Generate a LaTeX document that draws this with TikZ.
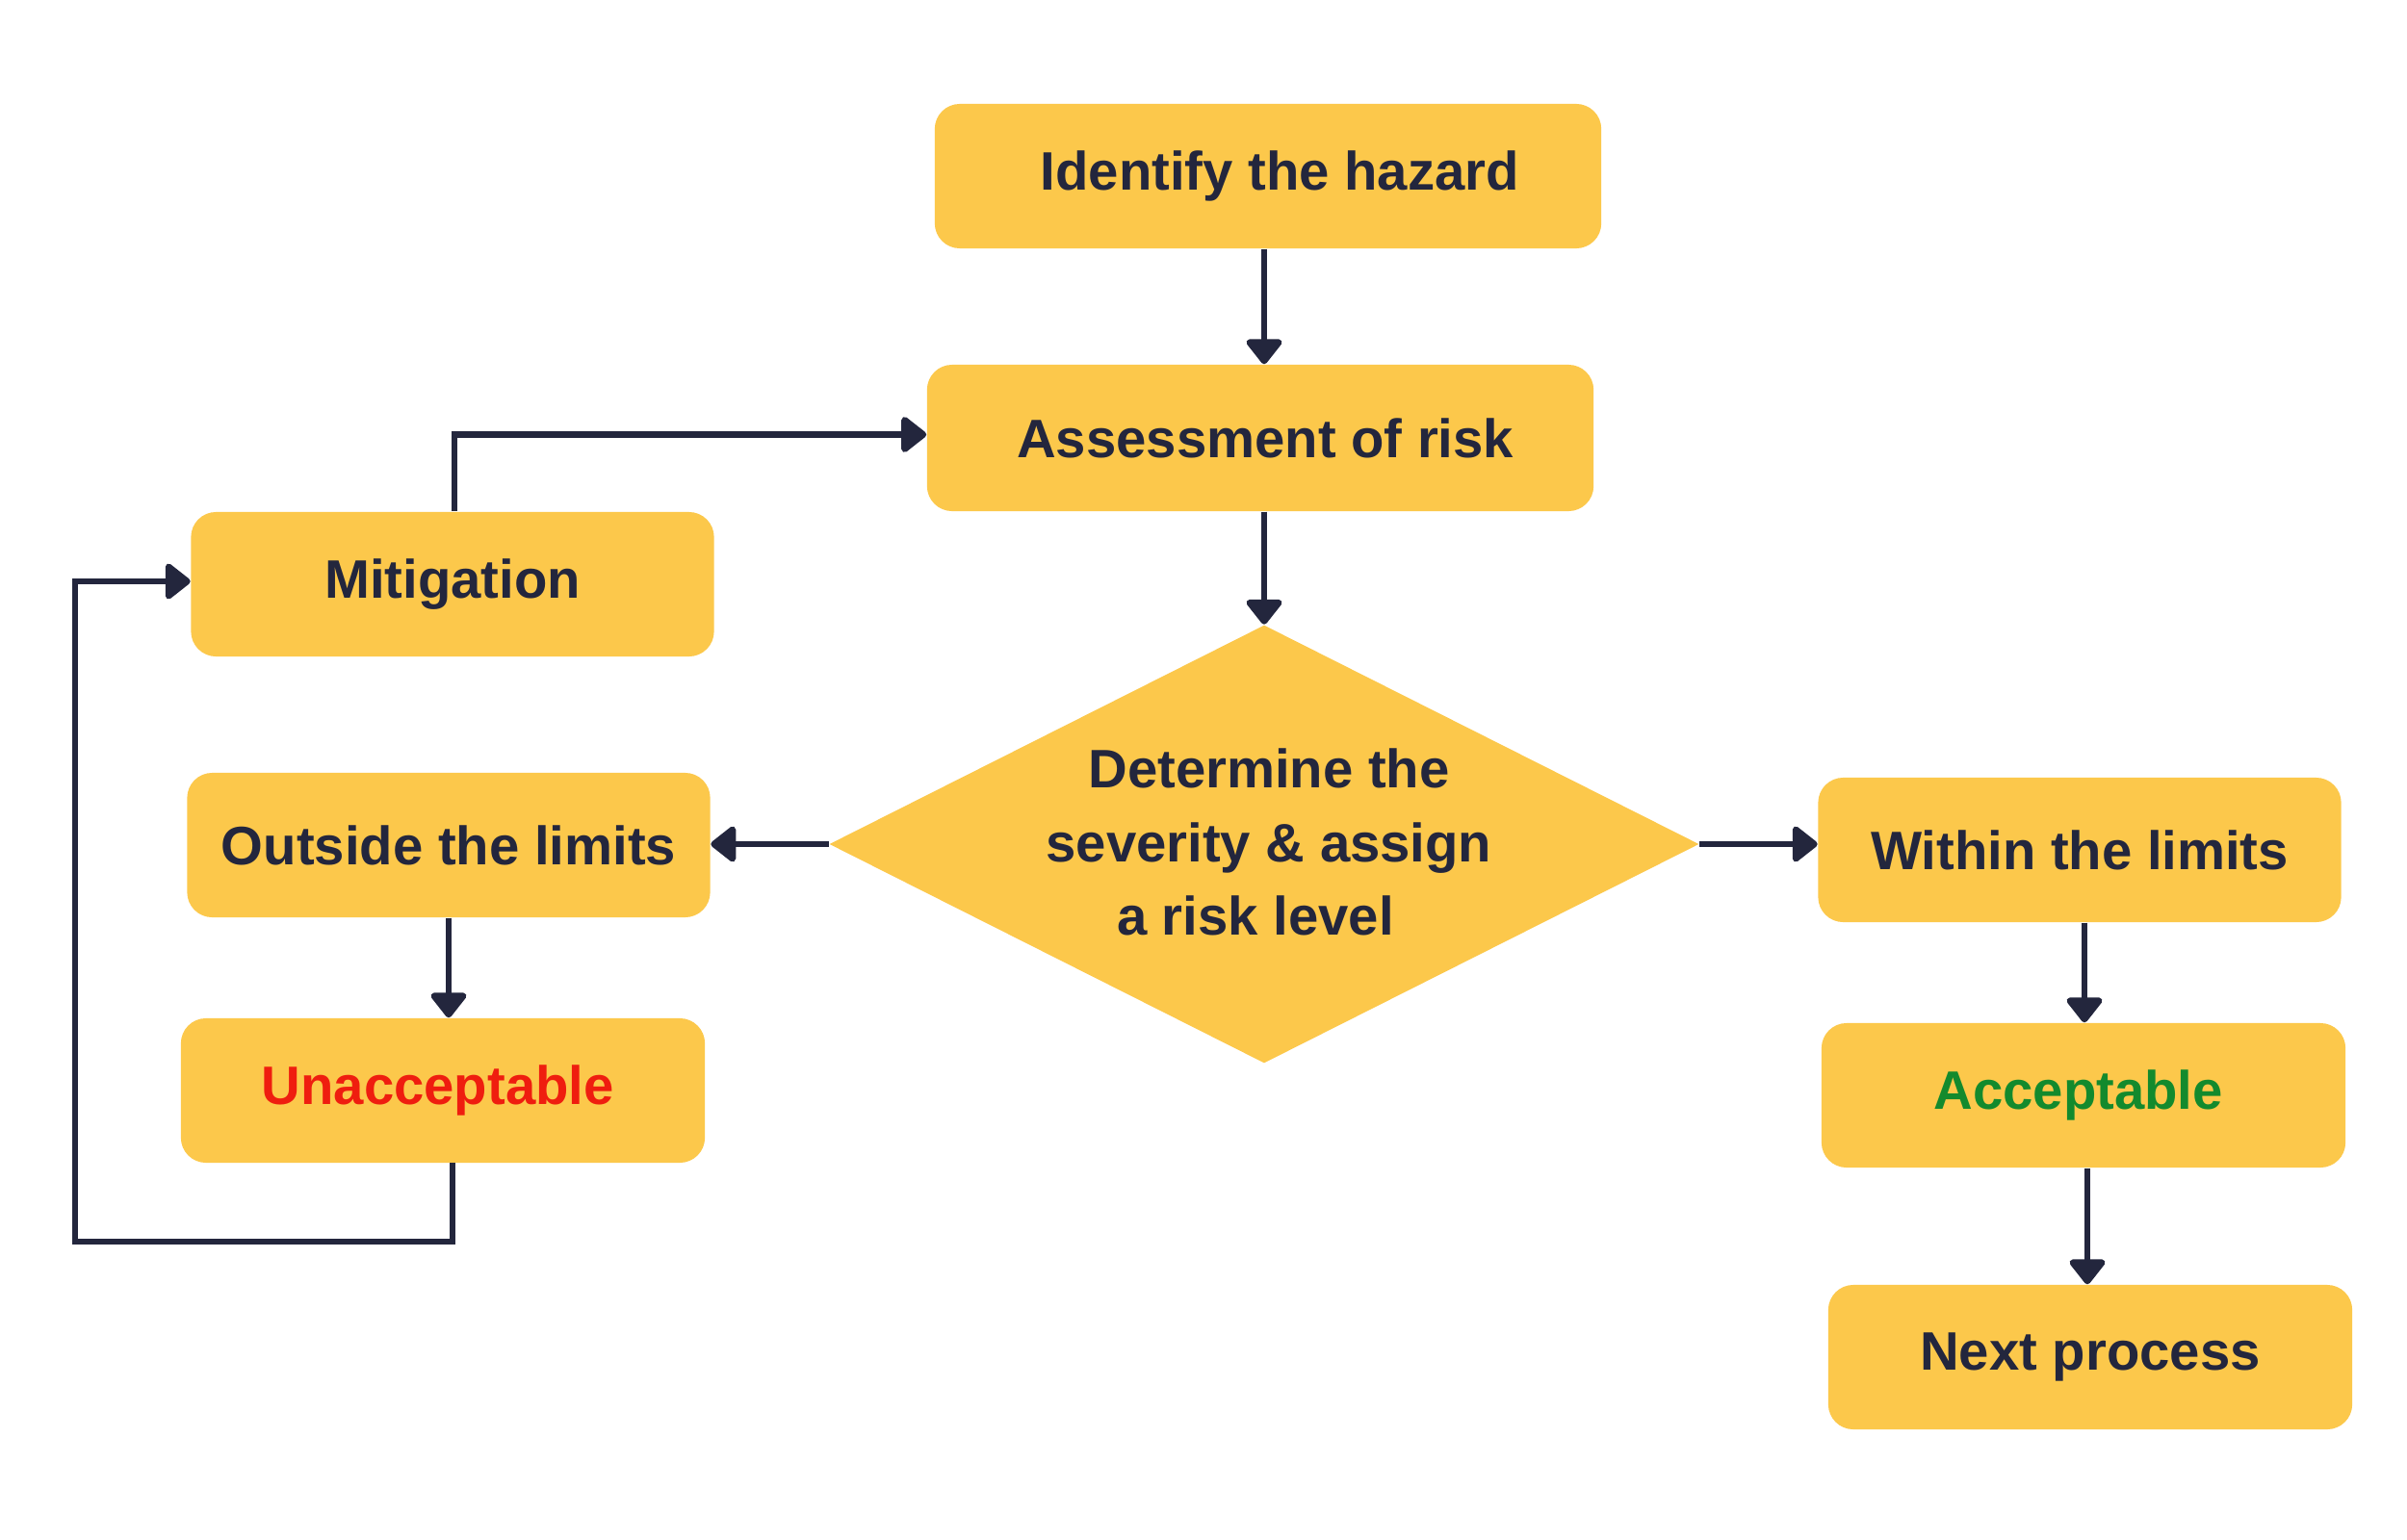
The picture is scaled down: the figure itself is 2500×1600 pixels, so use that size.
\documentclass[tikz,border=0pt]{standalone}
\usepackage{fontspec}
\setmainfont{Liberation Sans}
\usetikzlibrary{arrows.meta,shapes.geometric}
\definecolor{boxyellow}{HTML}{FCC84B}
\definecolor{navy}{HTML}{23263D}
\definecolor{badred}{HTML}{EF1D0F}
\definecolor{goodgreen}{HTML}{138A2D}
\tikzset{
  box/.style={fill=boxyellow, rounded corners=7.4pt, minimum width=#1, minimum height=150*0.2845pt,
    inner sep=0pt, font=\fontsize{16}{22}\selectfont\bfseries, text=navy, align=center},
  box/.default={543*0.2845pt},
  decision/.style={diamond, fill=boxyellow, inner sep=0pt, minimum width=903*0.2845pt, minimum height=455*0.2845pt,
    aspect=1.985, font=\fontsize{16}{22}\selectfont\bfseries, text=navy, align=center},
  conn/.style={draw=navy, line width=1.9pt, line join=miter,
    -{Triangle[width=12pt,length=8pt,round]}},
}
\begin{document}
\begin{tikzpicture}[x=0.01cm,y=-0.01cm]
\useasboundingbox (0,0) rectangle (2500,1600);
\fill[white] (0,0) rectangle (2500,1600);

\node[box={692*0.2845pt}] (hazard) at (1317,183) {\hspace*{7pt}Identify the hazard};
\node[box={692*0.2845pt}, minimum height=152*0.2845pt] (assess) at (1309,455) {\hspace*{3pt}Assessment of risk};
\node[box] (mitig) at (470,607) {Mitigation};
\node[box] (outside) at (466,878) {Outside the limits};
\node[box={544*0.2845pt}] (unacc) at (460,1133) {\color{badred}Unacceptable\hspace*{3pt}};
\node[box] (within) at (2160,883) {Within the limits};
\node[box={544*0.2845pt}] (accept) at (2164,1138) {\color{goodgreen}Acceptable\hspace*{3pt}};
\node[box={544*0.2845pt}] (next) at (2171,1410) {Next process};
\node[decision] (dia) at (1313,877) {};
\node[font=\fontsize{16}{21.7}\selectfont\bfseries, text=navy, align=center, inner sep=0pt] (diatext) at (1318,875)
  {Determine the\\severity \& assign\hspace*{3.6pt}\\a risk level\hspace*{8pt}};

\coordinate (mtop) at (472,531);
\coordinate (ubot) at (470,1208);
\coordinate (loopA) at (470,1290);
\coordinate (loopB) at (78,1290);
\coordinate (loopC) at (78,604);

\draw[conn] (hazard.south -| dia.north) -- (assess.north -| dia.north);
\draw[conn] (assess.south -| dia.north) -- (dia.north);
\draw[conn] (mtop) |- ([yshift=1pt]assess.west);
\draw[conn] (ubot) -- (loopA) -- (loopB) -- (loopC) -- (mitig.west |- loopC);
\draw[conn] (dia.west) -- (outside.east |- dia.west);
\draw[conn] (outside.south) -- (unacc.north -| outside.south);
\draw[conn] (dia.east) -- (within.west |- dia.east);
\draw[conn] (within.south -| 2165,0) -- (accept.north -| 2165,0);
\draw[conn] (accept.south -| 2168,0) -- (next.north -| 2168,0);
\end{tikzpicture}
\end{document}
